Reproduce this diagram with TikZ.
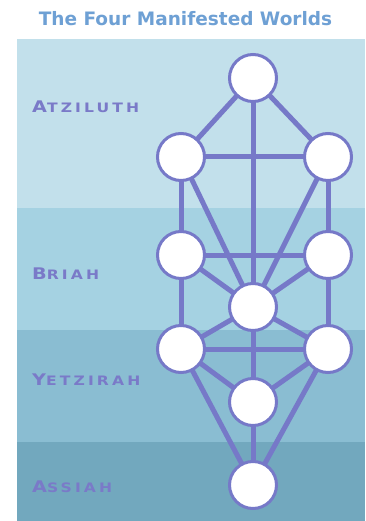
\documentclass[tikz,border=0pt]{standalone}
\usepackage{fontspec}
\setmainfont{DejaVu Sans}
\newfontfamily\worldfont[LetterSpace=20]{DejaVu Sans}
\usetikzlibrary{backgrounds}
\definecolor{atzblue}{RGB}{194, 224, 235}
\definecolor{briblue}{RGB}{165, 210, 226}
\definecolor{yetblue}{RGB}{138, 189, 210}
\definecolor{assblue}{RGB}{114, 168, 190}
\definecolor{treeviolet}{RGB}{118, 121, 200}
\definecolor{labelviolet}{RGB}{122, 122, 200}
\definecolor{titleblue}{RGB}{110, 160, 212}
\newcommand{\worldname}[2]{\scalebox{1.2}[1]{{\fontsize{16}{16}\selectfont #1}{\fontsize{13}{13}\selectfont #2}}}

\begin{document}
\begin{tikzpicture}[x=1pt, y=-1pt,
    sefira/.style={circle, draw=treeviolet, line width=3pt, fill=white, minimum size=47pt, inner sep=0pt},
    treepath/.style={draw=treeviolet, line width=5pt},
    worldlabel/.style={anchor=base west, text=labelviolet, font=\worldfont\bfseries, inner sep=0pt}]
  \useasboundingbox (0, 0) rectangle (365, 521);

  % Title
  \node[anchor=base, text=titleblue, font=\bfseries\fontsize{18.5}{18.5}\selectfont, inner sep=0pt] (title) at (185.5, 26) {The Four Manifested Worlds};

  % Sefirot
  \node[sefira] (kether) at (253, 78) {};
  \node[sefira] (binah) at (181, 157) {};
  \node[sefira] (chokmah) at (328, 157) {};
  \node[sefira] (geburah) at (181, 255) {};
  \node[sefira] (chesed) at (328, 255) {};
  \node[sefira] (tiphareth) at (253, 307) {};
  \node[sefira] (hod) at (181, 349) {};
  \node[sefira] (netzach) at (328, 349) {};
  \node[sefira] (yesod) at (253, 402) {};
  \node[sefira] (malkuth) at (253, 485) {};

  % World names
  \node[worldlabel] (atziluth) at (32, 112.7) {\worldname{A}{TZILUTH}};
  \node[worldlabel] (briah) at (32, 279) {\worldname{B}{RIAH}};
  \node[worldlabel] (yetzirah) at (32, 385) {\worldname{Y}{ETZIRAH}};
  \node[worldlabel] (assiah) at (32, 492.7) {\worldname{A}{SSIAH}};

  \begin{pgfonlayer}{background}
    % Bands
    \fill[atzblue] (17, 39) rectangle (365, 207.5);
    \fill[briblue] (17, 207.5) rectangle (365, 330);
    \fill[yetblue] (17, 330) rectangle (365, 442);
    \fill[assblue] (17, 442) rectangle (365, 521);

    % Paths
    \foreach \a/\b in {kether/binah, kether/chokmah, kether/tiphareth, binah/chokmah,
        binah/geburah, binah/tiphareth, chokmah/chesed, chokmah/tiphareth,
        geburah/chesed, geburah/tiphareth, chesed/tiphareth, geburah/hod,
        chesed/netzach, tiphareth/hod, tiphareth/netzach, hod/netzach,
        tiphareth/yesod, hod/yesod, netzach/yesod, hod/malkuth,
        netzach/malkuth, yesod/malkuth}
      \draw[treepath] (\a.center) -- (\b.center);
  \end{pgfonlayer}
\end{tikzpicture}
\end{document}
